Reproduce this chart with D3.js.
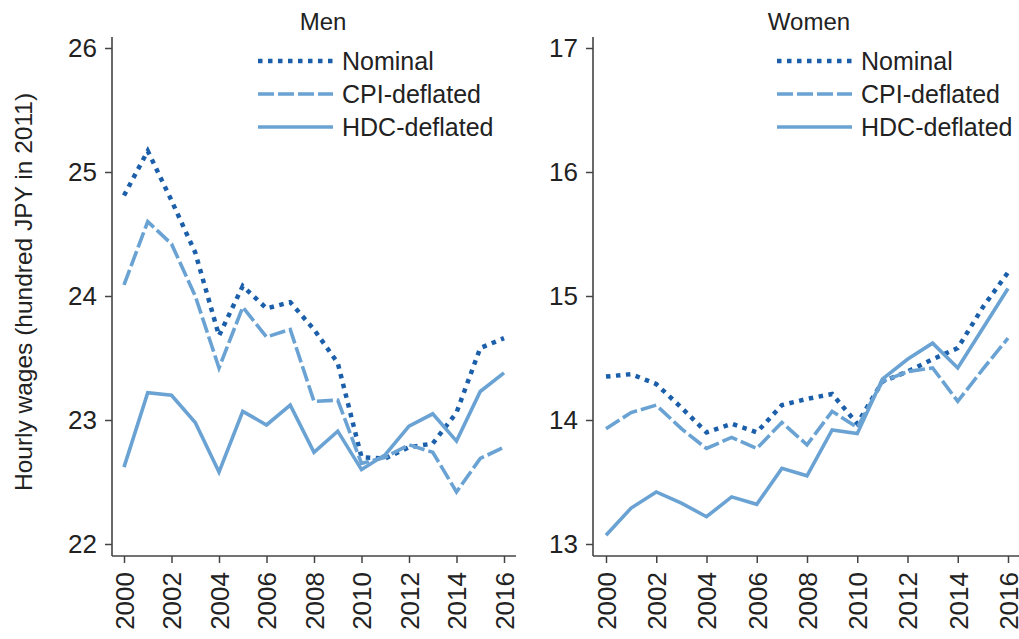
<!DOCTYPE html>
<html><head><meta charset="utf-8">
<script src="https://cdn.jsdelivr.net/npm/d3@7"></script>
<style>
body{margin:0;background:#fff;}
text{font-family:"Liberation Sans",Arial,sans-serif;fill:#222;}
</style></head>
<body>
<svg id="chart" width="1019" height="639"></svg>
<script>
const years = d3.range(2000, 2017);
const xTicks = [2000,2002,2004,2006,2008,2010,2012,2014,2016];
const seriesNames = ["Nominal","CPI-deflated","HDC-deflated"];

const menNominal = [24.81,25.17,24.77,24.35,23.68,24.08,23.90,23.95,23.73,23.46,22.70,22.69,22.78,22.81,23.06,23.58,23.66];
const menCPI     = [24.09,24.60,24.42,24.00,23.42,23.91,23.67,23.73,23.15,23.16,22.65,22.70,22.80,22.74,22.42,22.69,22.78];
const menHDC     = [22.62,23.22,23.20,22.98,22.58,23.07,22.96,23.12,22.74,22.91,22.60,22.72,22.95,23.05,22.83,23.23,23.38];

const womenNominal = [14.35,14.37,14.29,14.10,13.90,13.97,13.90,14.12,14.17,14.21,13.97,14.31,14.39,14.49,14.58,14.91,15.19];
const womenCPI     = [13.93,14.06,14.12,13.93,13.77,13.86,13.77,13.98,13.80,14.07,13.94,14.31,14.39,14.42,14.15,14.41,14.66];
const womenHDC     = [13.07,13.29,13.42,13.33,13.22,13.38,13.32,13.61,13.55,13.92,13.89,14.33,14.49,14.62,14.42,14.74,15.06];

const menTicks = [22,23,24,25,26];
const womenTicks = [13,14,15,16,17];

const styles = [
  {color:"#1b5fab", width:4.5, dash:"4.5,5.5"},
  {color:"#6aa3d3", width:3.6, dash:"16,4"},
  {color:"#6aa3d3", width:3.6, dash:null}
];

const svg = d3.select("#chart");
const axisColor = "#444";

const panels = [
  {title:"Men", data:[menNominal,menCPI,menHDC], ticks:menTicks, yDom:[22,26],
   axisX:112, xr:[124,504], xEnd:516, titleX:323, legX:258},
  {title:"Women", data:[womenNominal,womenCPI,womenHDC], ticks:womenTicks, yDom:[13,17],
   axisX:593, xr:[606,1008], xEnd:1019, titleX:809, legX:777}
];

const yTop = 37, xAxisY = 556;

panels.forEach(p => {
  const x = d3.scaleLinear().domain([2000,2016]).range(p.xr);
  const y = d3.scaleLinear().domain(p.yDom).range([544,48]);
  const g = svg.append("g");

  // axis lines
  g.append("line").attr("x1",p.axisX).attr("x2",p.axisX).attr("y1",yTop).attr("y2",xAxisY)
    .attr("stroke",axisColor).attr("stroke-width",1.6);
  g.append("line").attr("x1",p.axisX).attr("x2",p.xEnd).attr("y1",xAxisY).attr("y2",xAxisY)
    .attr("stroke",axisColor).attr("stroke-width",1.6);

  const ya = g.append("g").attr("transform",`translate(${p.axisX},0)`)
    .call(d3.axisLeft(y).tickValues(p.ticks).tickSize(7).tickPadding(8).tickFormat(d3.format("d")));
  ya.select(".domain").remove();
  ya.selectAll("line").attr("stroke",axisColor).attr("stroke-width",1.5);
  ya.selectAll("text").attr("font-size",26).style("fill","#222");

  const xa = g.append("g").attr("transform",`translate(0,${xAxisY})`)
    .call(d3.axisBottom(x).tickValues(xTicks).tickSize(7).tickFormat(d3.format("d")));
  xa.select(".domain").remove();
  xa.selectAll("line").attr("stroke",axisColor).attr("stroke-width",1.5);
  xa.selectAll("text").attr("font-size",26).style("fill","#222")
    .attr("text-anchor","end").attr("transform","rotate(-90)")
    .attr("x",-16).attr("y",0).attr("dy","0.36em");

  // lines
  const line = d3.line().x((d,i)=>x(years[i])).y(d=>y(d));
  p.data.forEach((arr,k)=>{
    const s = styles[k];
    g.append("path").datum(arr).attr("d",line).attr("fill","none")
      .attr("stroke",s.color).attr("stroke-width",s.width)
      .attr("stroke-dasharray",s.dash).attr("stroke-linejoin","miter");
  });

  // title
  g.append("text").attr("x",p.titleX).attr("y",30).attr("text-anchor","middle")
    .attr("font-size",24).text(p.title);

  // legend
  const legY = [61,94,127];
  seriesNames.forEach((n,k)=>{
    const s = styles[k];
    g.append("line").attr("x1",p.legX).attr("x2",p.legX+75).attr("y1",legY[k]).attr("y2",legY[k])
      .attr("stroke",s.color).attr("stroke-width",s.width).attr("stroke-dasharray",s.dash);
    g.append("text").attr("x",p.legX+84).attr("y",legY[k]+9).attr("font-size",25).text(n);
  });
});

svg.append("text").attr("transform","translate(32,292) rotate(-90)")
  .attr("text-anchor","middle").attr("font-size",24.5)
  .text("Hourly wages (hundred JPY in 2011)");
</script>
</body></html>
